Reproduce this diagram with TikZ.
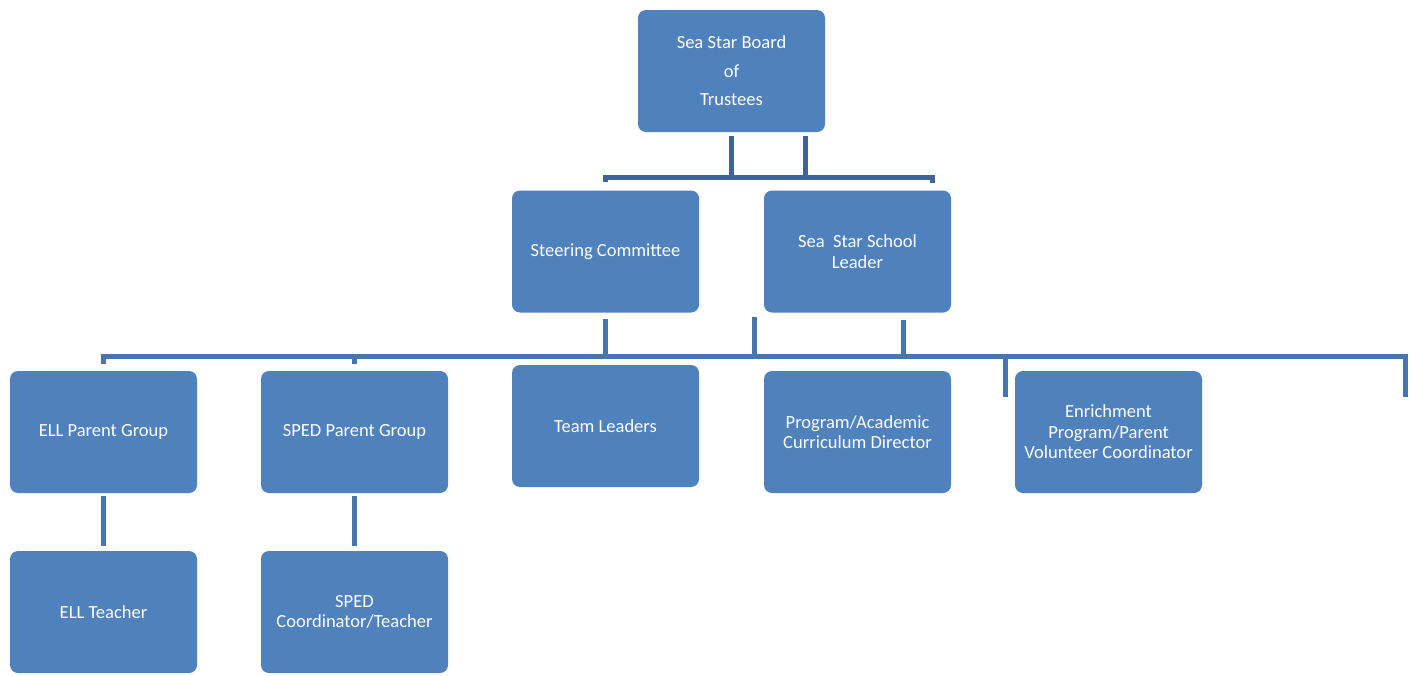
\documentclass[tikz,border=0pt]{standalone}
\usepackage{fontspec}
\setmainfont{Carlito}

\definecolor{boxcolor}{RGB}{79,129,189}
\definecolor{linecolor1}{RGB}{62,100,150}
\definecolor{linecolor2}{RGB}{72,117,173}

\begin{document}
\begin{tikzpicture}[x=0.75pt, y=-0.75pt, line join=miter,
		caja/.style={rectangle, rounded corners=6pt, fill=boxcolor, text=white, inner sep=2pt,
			minimum width=140.25pt, minimum height=91.5pt, align=center,
			font=\fontsize{13.9}{15.4}\selectfont},
		enlace/.style={line width=3.75pt, color=linecolor2}]
		
		% Delimitar ventana de dibujo
		\useasboundingbox (0,0) rectangle (1412,675);
		
		% Consejo
		\node [caja, font=\fontsize{13.9}{21.4}\selectfont] (board) at (731.5,71) {Sea Star Board\\of\\Trustees};
		
		% Segundo nivel
		\node [caja] (steer) at (605.5,251.5) {Steering Committee};
		\node [caja] (leader) at (857.5,251.5) {Sea\ \ Star School\\Leader};
		
		% Tercer nivel
		\node [caja] (ellp) at (103.5,432) {ELL Parent Group};
		\node [caja] (spedp) at (354.5,432) {SPED Parent Group};
		\node [caja] (team) at (605.5,426) {Team Leaders};
		\node [caja] (prog) at (857.5,432) {Program/Academic\\Curriculum Director};
		\node [caja] (enrich) at (1108.5,432) {Enrichment\\Program/Parent\\Volunteer Coordinator};
		
		% Cuarto nivel
		\node [caja] (ellt) at (103.5,612) {ELL Teacher};
		\node [caja] (spedt) at (354.5,612) {SPED\\Coordinator/Teacher};
		
		% Puntos auxiliares de las barras
		\coordinate (topbar) at (0,177);
		\coordinate (bjoin) at (805,136);
		\coordinate (topend) at (932,183);
		\coordinate (midbar) at (0,356);
		\coordinate (mjoin) at (754,317);
		\coordinate (ljoin) at (903,320);
		\coordinate (mdrop) at (1005,397);
		\coordinate (mend) at (1405,397);
		
		% Enlaces desde el consejo
		\draw [enlace, color=linecolor1] ([yshift=-3pt]board.south) -- (board.south |- topbar);
		\draw [enlace, color=linecolor1] (bjoin) -- (bjoin |- topbar);
		\draw [enlace, color=linecolor1] ([yshift=6pt]steer.north) -- (steer.north |- topbar) -- (topend |- topbar) -- (topend);
		
		% Barra central
		\draw [enlace] ([yshift=-4.5pt]steer.south) -- (steer.south |- midbar);
		\draw [enlace] (mjoin) -- (mjoin |- midbar);
		\draw [enlace] (ljoin) -- (ljoin |- midbar);
		\draw [enlace] ([yshift=5pt]ellp.north) -- (ellp.north |- midbar) -- (mend |- midbar) -- (mend);
		\draw [enlace] ([yshift=5pt]spedp.north) -- (spedp.north |- midbar);
		\draw [enlace] (mdrop |- midbar) -- (mdrop);
		
		% Enlaces al cuarto nivel
		\draw [enlace] ([yshift=-2.25pt]ellp.south) -- ([yshift=3.75pt]ellt.north);
		\draw [enlace] ([yshift=-2.25pt]spedp.south) -- ([yshift=3.75pt]spedt.north);
		
	\end{tikzpicture}
\end{document}
